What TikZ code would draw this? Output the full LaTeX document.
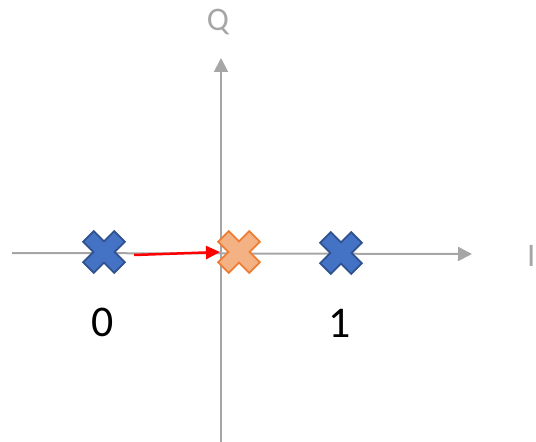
\documentclass[tikz,border=0pt]{standalone}
\usepackage{fontspec}
\setmainfont{Carlito}
\usetikzlibrary{arrows.meta}
\definecolor{axisgray}{HTML}{A6A6A6}
\definecolor{xblue}{HTML}{4472C4}
\definecolor{xblueline}{HTML}{2F528F}
\definecolor{xorange}{HTML}{F4B183}
\definecolor{xorangeline}{HTML}{ED7D31}
\tikzset{
  axis/.style={draw=axisgray, line width=2bp, -{Triangle[length=14bp,width=14bp]}},
  axislabel/.style={text=axisgray, font=\fontsize{33}{33}\selectfont, inner sep=0pt},
  symlabel/.style={font=\fontsize{44}{44}\selectfont, inner sep=0pt},
  move/.style={draw=red, line width=2.5bp, -{Triangle[length=14bp,width=13bp]}},
  pics/xmark/.style 2 args={code={
    \draw[fill=#1, draw=#2, line width=1.8bp, line join=miter, rotate=45]
      (-7.5,-22) -- (7.5,-22) -- (7.5,-7.5) -- (22,-7.5) -- (22,7.5) -- (7.5,7.5)
      -- (7.5,22) -- (-7.5,22) -- (-7.5,7.5) -- (-22,7.5) -- (-22,-7.5) -- (-7.5,-7.5) -- cycle;
  }}
}
\begin{document}
\begin{tikzpicture}[x=1bp, y=-1bp]
  \useasboundingbox (0,0) rectangle (536,442);
  % axes
  \coordinate (ileft) at (12,253);
  \coordinate (iright) at (472,254);
  \coordinate (qbottom) at (221,442);
  \coordinate (qtop) at (221,58);
  \draw[axis] (ileft) -- (iright);
  \draw[axis] (qbottom) -- (qtop);
  \node[axislabel] (qlab) at (218,22) {Q};
  \node[axislabel, anchor=west] (ilab) at (527,256) {I};
  % constellation points
  \coordinate (s0) at (104,252);
  \coordinate (sm) at (239,252);
  \coordinate (s1) at (341,253);
  \pic at (s0) {xmark={xblue}{xblueline}};
  \pic at (s1) {xmark={xblue}{xblueline}};
  \pic at (sm) {xmark={xorange}{xorangeline}};
  % shift of symbol 0
  \coordinate (mstart) at (134,255);
  \coordinate (mend) at (220,252);
  \draw[move] (mstart) -- (mend);
  % labels
  \node[symlabel] (l0) at (103,322) {0};
  \node[symlabel] (l1) at (340,323) {1};
\end{tikzpicture}
\end{document}
